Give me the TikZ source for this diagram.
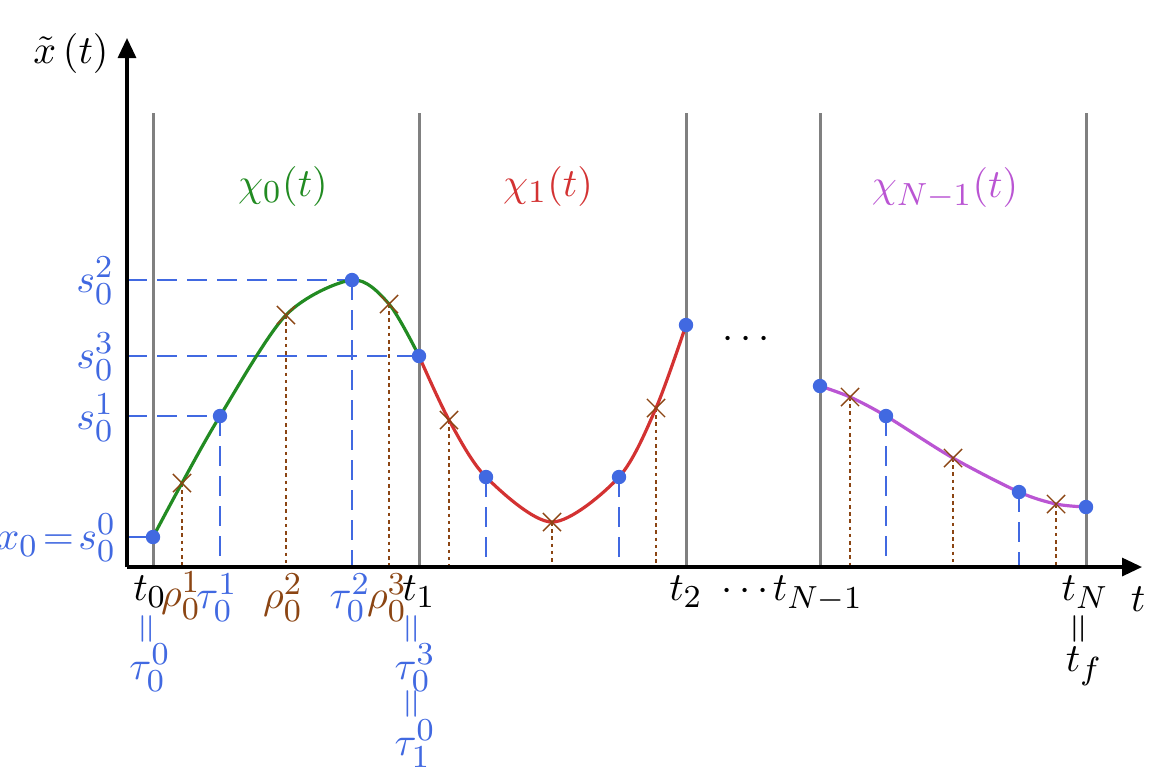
\documentclass[tikz,border=0pt]{standalone}
\usetikzlibrary{arrows.meta,shapes.misc}
\DeclareMathSizes{10}{10}{8}{6}
\definecolor{dotblue}{RGB}{65,105,225}
\definecolor{cgreen}{RGB}{34,139,34}
\definecolor{cred}{RGB}{211,50,50}
\definecolor{cpurple}{RGB}{186,85,211}
\definecolor{cbrown}{RGB}{139,69,19}
\definecolor{cgray}{RGB}{128,128,128}
\tikzset{
  every node/.style={font=\fontsize{10}{12}\selectfont},
  axisline/.style={line width=0.8pt,-{Triangle[length=5pt,width=4.5pt]}},
  gridline/.style={cgray,line width=0.75pt},
  knot/.style={circle,fill=dotblue,inner sep=0pt,minimum size=3.6pt},
  crossmark/.style={cross out,draw=cbrown,inner sep=0pt,minimum size=4.2pt,line width=0.35pt},
  bluedash/.style={dotblue,line width=0.6pt,dash pattern=on 5pt off 2.5pt},
  browndot/.style={cbrown,line width=0.6pt,dash pattern=on 0.9pt off 0.9pt},
  curve/.style={line width=0.8pt},
  lbl/.style={inner sep=1pt},
  blbl/.style={inner sep=1pt,text=dotblue},
  rlbl/.style={inner sep=1pt,text=cbrown},
  eqv/.style={inner sep=1pt,text=dotblue,rotate=90},
}
\begin{document}
\begin{tikzpicture}[x=0.25pt,y=-0.25pt]
\useasboundingbox (0,0) rectangle (1163,775);
% axes
\coordinate (O) at (127,567);
\coordinate (ytip) at (127,38);
\coordinate (xtip) at (1142,567);
% grid lines
\foreach \n/\x in {g0/153,g1/419,g2/686,g3/820,g4/1086}{
  \coordinate (\n top) at (\x,113);
  \coordinate (\n bot) at (\x,567);
  \draw[gridline] (\n top) -- (\n bot);
}
% points
\coordinate (p0) at (153,537);
\coordinate (c1) at (182,483);
\coordinate (p1) at (220,416);
\coordinate (c2) at (286,315);
\coordinate (p2) at (352,280);
\coordinate (c3) at (389,304);
\coordinate (p3) at (419,356);
\coordinate (d1) at (449,420);
\coordinate (q1) at (486,477);
\coordinate (d2) at (552,522);
\coordinate (q2) at (619,477);
\coordinate (d3) at (656,408);
\coordinate (q3) at (686,325);
\coordinate (r0) at (820,386);
\coordinate (e1) at (850,397);
\coordinate (r1) at (886,416);
\coordinate (e2) at (953,458);
\coordinate (r2) at (1019,492);
\coordinate (e3) at (1056,504);
\coordinate (r3) at (1086,507);
% axis feet and y-axis feet
\foreach \n/\x in {c1/182,p1/220,c2/286,p2/352,c3/389,d1/449,q1/486,d2/552,q2/619,d3/656,r1/886,e1/850,e2/953,r2/1019,e3/1056}{
  \coordinate (\n foot) at (\x,567);
}
\foreach \n/\y in {p0/537,p1/416,p2/280,p3/356}{
  \coordinate (\n y) at (127,\y);
}
% dashed projections
\foreach \n in {p0,p1,p2,p3}{ \draw[bluedash] (\n y) -- (\n); }
\foreach \n in {p1,p2,q1,q2,r1,r2}{ \draw[bluedash] (\n) -- (\n foot); }
\foreach \n in {c1,c2,c3,d1,d2,d3,e1,e2,e3}{ \draw[browndot] (\n) -- (\n foot); }
% curves
\draw[curve,cgreen] plot[smooth] coordinates {(p0) (c1) (p1) (c2) (p2) (c3) (p3)};
\draw[curve,cred] plot[smooth] coordinates {(p3) (d1) (q1) (d2) (q2) (d3) (q3)};
\draw[curve,cpurple] plot[smooth] coordinates {(r0) (e1) (r1) (e2) (r2) (e3) (r3)};
% markers
\foreach \n in {c1,c2,c3,d1,d2,d3,e1,e2,e3}{ \node[crossmark] (\n m) at (\n) {}; }
\foreach \n in {p0,p1,p2,p3,q1,q2,q3,r0,r1,r2,r3}{ \node[knot] (\n m) at (\n) {}; }
% axes on top
\draw[axisline] (O) -- (ytip);
\draw[axisline] (O) -- (xtip);
% labels
\node[lbl] (ylab) at (71,53) {$\tilde{x}\left(t\right)$};
\node[lbl] (tlab) at (1138,599) {$t$};
\node[lbl,text=cgreen] (chi0) at (283,186) {$\chi_0(t)$};
\node[lbl,text=cred] (chi1) at (548,186) {$\chi_1(t)$};
\node[lbl,text=cpurple] (chiN) at (945,188) {$\chi_{N-1}(t)$};
\node[lbl] (mdots) at (746,340) {$\cdots$};
% y labels
\node[blbl,anchor=east] (ls2) at (119,281) {$s_0^2$};
\node[blbl,anchor=east] (ls3) at (119,357) {$s_0^3$};
\node[blbl,anchor=east] (ls1) at (119,418) {$s_0^1$};
\node[blbl,anchor=east] (ls0) at (121,538) {$x_0\!=\!s_0^0$};
% x labels
\node[lbl,anchor=north] (lt0) at (150,571) {$t_0$};
\node[rlbl,anchor=north,inner sep=0.5pt] (lr1) at (181,569) {$\rho_0^1$};
\node[blbl,anchor=north] (lta1) at (217,569) {$\tau_0^1$};
\node[rlbl,anchor=north] (lr2) at (283,569) {$\rho_0^2$};
\node[blbl,anchor=north] (lta2) at (350,569) {$\tau_0^2$};
\node[rlbl,anchor=north] (lr3) at (387,569) {$\rho_0^3$};
\node[lbl,anchor=north] (lt1) at (419,571) {$t_1$};
\node[lbl,anchor=north] (lt2) at (686,571) {$t_2$};
\node[lbl] (ldots) at (745,592) {$\cdots$};
\node[lbl,anchor=north] (ltN1) at (818,571) {$t_{N-1}$};
\node[lbl,anchor=north] (ltN) at (1085,571) {$t_N$};
% equalities below
\node[eqv] (e0a) at (149,629) {$=$};
\node[blbl] (ltau00) at (150,668) {$\tau_0^0$};
\node[eqv] (e1a) at (414,629) {$=$};
\node[blbl] (ltau03) at (415,668) {$\tau_0^3$};
\node[eqv] (e1b) at (414,704) {$=$};
\node[blbl] (ltau10) at (415,744) {$\tau_1^0$};
\node[eqv,text=black] (eNa) at (1081,629) {$=$};
\node[lbl] (ltf) at (1084,666) {$t_f$};
\end{tikzpicture}
\end{document}
